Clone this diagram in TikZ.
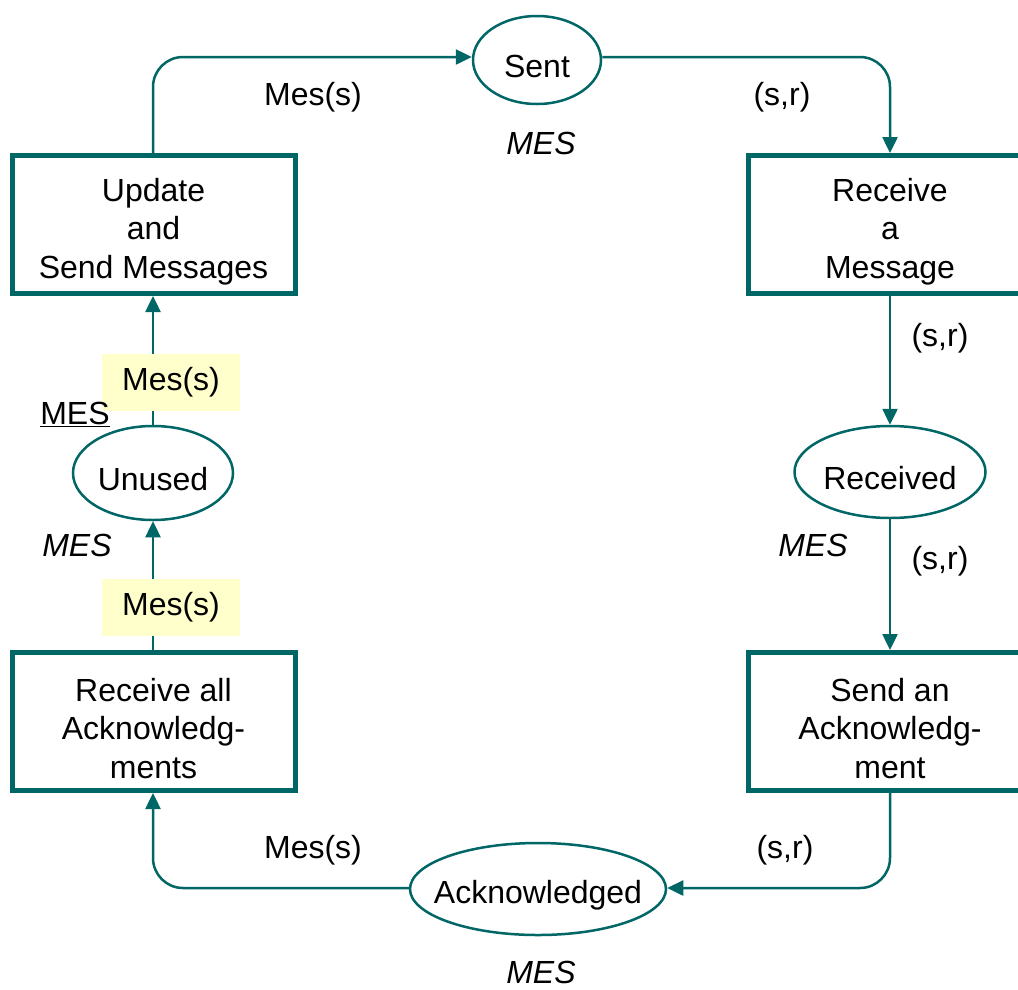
\documentclass[tikz,border=0pt]{standalone}
\usepackage{fontspec}
\setmainfont{Liberation Sans}
\usetikzlibrary{arrows.meta,shapes.geometric}
\definecolor{teal}{RGB}{0,102,102}
\definecolor{lbl}{RGB}{255,255,204}
\begin{document}
\begin{tikzpicture}[x=1pt,y=-1pt,
  bigfont/.style={font=\fontsize{32}{38.5}\selectfont},
  txt/.style={bigfont, inner sep=0pt},
  trans/.style={draw=teal, line width=5pt, fill=white, inner sep=0pt, minimum width=283pt, minimum height=138pt,
     label={[bigfont, align=center, yshift=-7pt]center:#1}},
  place/.style={draw=teal, line width=2.5pt, ellipse, inner sep=0pt,
     label={[bigfont, yshift=-6pt]center:#1}},
  arc/.style={draw=teal, line width=2.5pt, -{Triangle[length=16pt,width=15pt]}, rounded corners=30pt},
  hl/.style={fill=lbl, inner sep=0pt, minimum width=138pt, minimum height=57pt, bigfont}
]
\useasboundingbox (0,0) rectangle (1018,989);
% places
\node[place=Sent, minimum width=128pt, minimum height=88pt] (sent) at (537,60) {};
\node[place=Received, minimum width=191pt, minimum height=92pt] (recd) at (890,472) {};
\node[place=Acknowledged, minimum width=256pt, minimum height=92pt] (ack) at (538,889) {};
\node[place=Unused, minimum width=160pt, minimum height=94pt] (unused) at (153,473) {};
% transitions
\node[trans={Update\\and\\Send Messages}] (upd) at (153.5,224.5) {};
\node[trans={Receive\\a\\Message}] (rcv) at (890,224.5) {};
\node[trans={Send an\\Acknowledg-\\ment}] (sack) at (890,721.5) {};
\node[trans={Receive all\\Acknowledg-\\ments}] (rall) at (153.5,721.5) {};
% arcs
\coordinate (c1) at (153,57);
\coordinate (c2) at (890,57);
\coordinate (c3) at (890,888);
\coordinate (c4) at (153,888);
\draw[arc] (upd.north -| c1) -- (c1) -- (sent.west |- c1);
\draw[arc] (sent.east |- c2) -- (c2) -- (rcv.north -| c2);
\draw[arc] (rcv.south -| c2) -- (recd.north);
\draw[arc] (recd.south) -- (sack.north -| c2);
\draw[arc] (sack.south -| c3) -- (c3) -- (ack.east |- c3);
\draw[arc] (ack.west |- c4) -- (c4) -- (rall.south -| c4);
\draw[arc] (rall.north -| c4) -- (unused.south);
\draw[arc] (unused.north) -- (upd.south -| c4);
% arc labels
\node[hl] (l1) at (171,382) {Mes(s)};
\node[hl] (l2) at (171,607) {Mes(s)};
\node[txt] (t1) at (313,97) {Mes(s)};
\node[txt] (t2) at (782,97) {(s,r)};
\node[txt] (t3) at (940,338) {(s,r)};
\node[txt] (t4) at (940,561) {(s,r)};
\node[txt] (t5) at (785,850) {(s,r)};
\node[txt] (t6) at (313,850) {Mes(s)};
% colour sets / initial marking
\node[txt] (m1) at (541,143) {\itshape MES};
\node[txt] (m2) at (813,545) {\itshape MES};
\node[txt] (m3) at (541,972) {\itshape MES};
\node[txt] (m4) at (77,545) {\itshape MES};
\node[txt] (m5) at (75,414) {\underline{MES}};
\end{tikzpicture}
\end{document}
